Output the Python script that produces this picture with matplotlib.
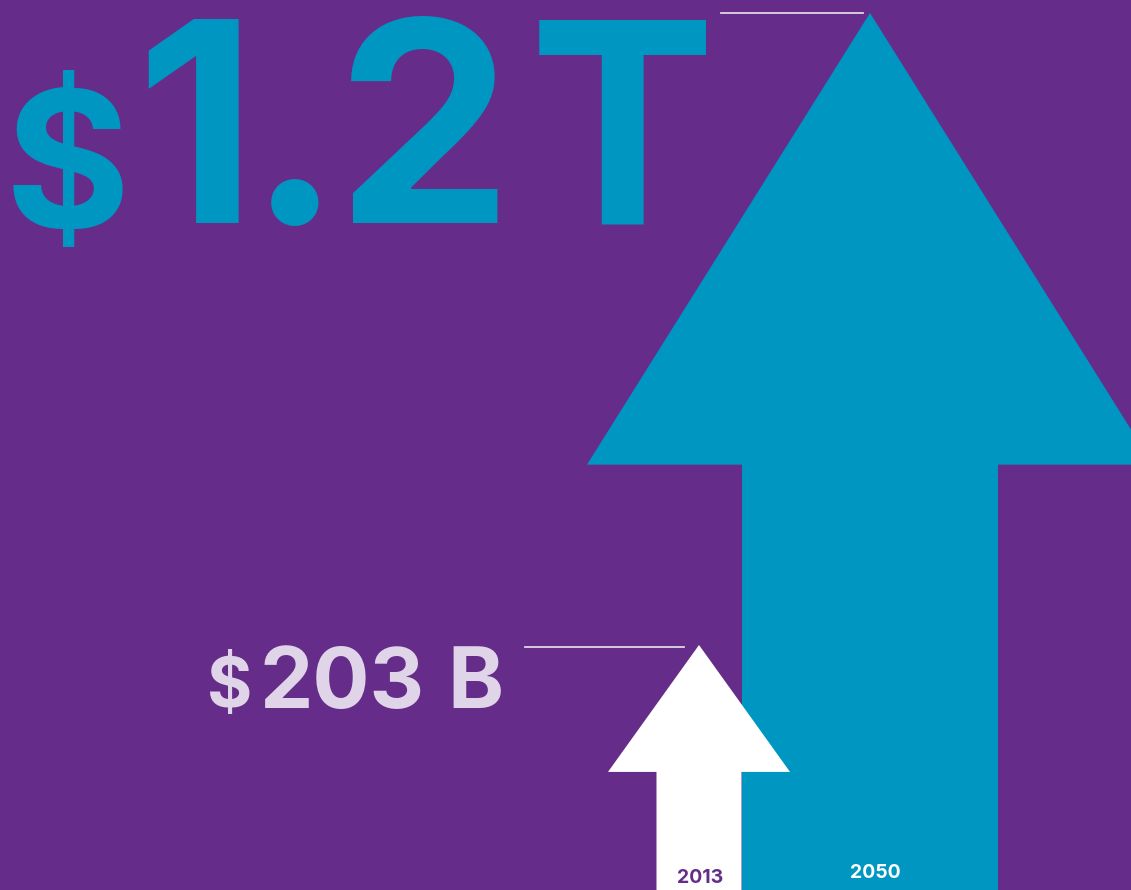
import matplotlib
matplotlib.use("Agg")
import matplotlib.pyplot as plt
from matplotlib.patches import Polygon

# data
years = ["2013", "2050"]
amounts = ["203", "1.2T"]
units = ["B", ""]
# visible arrow heights (px from the bottom edge), as drawn in the picture
arrow_height = [245, 877]

purple = "#652d89"
blue = "#0096c2"
white = "#ffffff"
lavender = "#e0d5e8"

W, H = 1131, 890
fig = plt.figure(figsize=(W / 100, H / 100), dpi=100)
fig.patch.set_facecolor(purple)
ax = fig.add_axes([0, 0, 1, 1])
ax.set_xlim(0, W)
ax.set_ylim(0, H)
ax.axis("off")

font = ["Inter", "DejaVu Sans"]


def arrow(cx, height, shaft_half, head_half, head_frac, color, z):
    base = height * (1 - head_frac)
    pts = [(cx - shaft_half, 0), (cx - shaft_half, base), (cx - head_half, base),
           (cx, height), (cx + head_half, base), (cx + shaft_half, base),
           (cx + shaft_half, 0)]
    ax.add_patch(Polygon(pts, closed=True, facecolor=color, edgecolor="none", zorder=z))


# 2050 arrow (blue), then 2013 arrow (white) on top
arrow(870, arrow_height[1], 128, 283, 0.515, blue, 1)
arrow(699, arrow_height[0], 42.5, 91, 0.518, white, 2)

# leader lines next to the arrow tips
ax.plot([721, 863], [H - 13, H - 13], color=lavender, lw=1.3, zorder=3)
ax.plot([525, 684], [H - 647, H - 647], color=lavender, lw=1.3, zorder=3)

# big 2050 label
ax.text(67, H - 228, "$", color=blue, fontsize=138, fontweight="bold",
        family=font, ha="center", va="baseline")
big_x = [196, 295, 424, 622]
for ch, x in zip(amounts[1], big_x):
    ax.text(x, H - 223, ch, color=blue, fontsize=202, fontweight="bold",
            family=font, ha="center", va="baseline")

# 2013 label
ax.text(230, H - 707, "$", color=lavender, fontsize=50, fontweight="bold",
        family=font, ha="center", va="baseline")
ax.text(260, H - 708, amounts[0], color=lavender, fontsize=61, fontweight="bold",
        family=font, ha="left", va="baseline")
ax.text(447, H - 708, units[0], color=lavender, fontsize=61, fontweight="bold",
        family=font, ha="left", va="baseline")

# year labels at the bottom of the arrows
ax.text(700, H - 883, years[0], color=purple, fontsize=14, fontweight="bold",
        family=font, ha="center", va="baseline")
ax.text(875, H - 878, years[1], color=white, fontsize=14, fontweight="bold",
        family=font, ha="center", va="baseline")

fig.savefig("out.png", dpi=100, facecolor=purple)
